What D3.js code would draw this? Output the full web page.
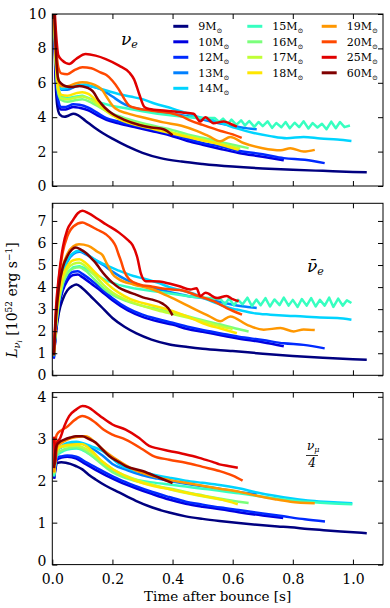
<!DOCTYPE html>
<html>
<head>
<meta charset="utf-8">
<script src="https://cdn.jsdelivr.net/npm/d3@7"></script>
<style>
  body { margin: 0; background: #fff; }
  svg text { font-family: "DejaVu Serif", serif; fill: #000; }
</style>
</head>
<body>
<div id="chart"></div>
<script>
////////////////////////////////////////////////////////////////////
////////////////////////////  Data  ////////////////////////////////
const masses = ["9", "10", "12", "13", "14", "15", "16", "17", "18", "19", "20", "25", "60"];
const colors = ["#000080", "#0000e0", "#002aff", "#0080ff", "#00d4ff", "#37ffc0", "#7bff7b",
  "#c0ff37", "#ffe600", "#ff9700", "#ff4800", "#e00000", "#800000"];
const xTicks = [0, 0.2, 0.4, 0.6, 0.8, 1.0];

// nu_e  [t (s), L (1e52 erg/s)]
const e9 = [[0.003,12],[0.01,6.6],[0.017,4.6],[0.025,4.15],[0.04,4.02],[0.055,4.1],[0.07,4.2],[0.085,4.12],[0.11,3.8],[0.14,3.4],[0.17,3.05],[0.2,2.75],[0.25,2.3],[0.3,1.93],[0.36,1.62],[0.43,1.42],[0.5,1.28],[0.6,1.13],[0.7,1.02],[0.8,0.94],[0.9,0.88],[1.0,0.82],[1.046,0.8]];
const e10 = [[0.003,12],[0.01,7.2],[0.018,5.0],[0.028,4.45],[0.045,4.45],[0.07,4.6],[0.09,4.55],[0.12,4.4],[0.15,4.1],[0.18,3.85],[0.22,3.65],[0.28,3.4],[0.33,3.2],[0.39,2.95],[0.45,2.62],[0.5,2.4],[0.56,2.15],[0.62,1.92],[0.7,1.7],[0.77,1.49]];
const e12 = [[0.003,12],[0.01,7.4],[0.018,5.2],[0.028,4.6],[0.045,4.6],[0.07,4.75],[0.09,4.72],[0.12,4.55],[0.15,4.25],[0.18,3.95],[0.22,3.75],[0.28,3.5],[0.33,3.3],[0.39,3.05],[0.45,2.75],[0.5,2.5],[0.56,2.3],[0.62,2.05],[0.7,1.85],[0.77,1.62],[0.84,1.52],[0.906,1.33]];
const e13 = [[0.003,12],[0.012,7.8],[0.02,6.0],[0.03,5.6],[0.05,5.6],[0.08,5.8],[0.11,5.85],[0.14,5.75],[0.17,5.55],[0.2,5.2],[0.23,4.85],[0.26,4.6],[0.3,4.45],[0.36,4.3],[0.42,4.15],[0.48,3.95],[0.54,3.7],[0.6,3.5],[0.65,3.35],[0.68,3.3]];
const e14 = [[0.003,12],[0.012,7.8],[0.02,6.1],[0.03,5.65],[0.05,5.7],[0.08,5.85],[0.11,5.9],[0.14,5.75],[0.18,5.55],[0.22,5.35],[0.26,5.2],[0.3,5.05],[0.34,4.8],[0.4,4.5],[0.46,4.15],[0.5,3.95],[0.54,3.8],[0.58,3.55],[0.614,3.35],[0.67,3.08],[0.725,2.9],[0.78,2.78],[0.836,2.85],[0.892,2.76],[0.948,2.7],[0.995,2.62]];
const e15 = [[0.003,12],[0.012,7.2],[0.02,5.6],[0.03,5.2],[0.05,5.1],[0.08,5.2],[0.1,5.25],[0.13,5.05],[0.16,4.85],[0.2,4.65],[0.25,4.5],[0.3,4.35],[0.35,4.2],[0.4,4.1],[0.45,4.0],[0.5,3.95],[0.54,3.95],
  [0.555,3.72],[0.568,3.92],[0.584,3.62],[0.596,3.86],[0.612,3.55],[0.628,3.82],[0.641,3.52],[0.655,3.78],[0.672,3.44],[0.686,3.72],[0.7,3.48],[0.716,3.76],[0.731,3.38],[0.745,3.66],[0.762,3.42],[0.776,3.72],[0.79,3.36],[0.806,3.68],[0.821,3.42],[0.836,3.76],[0.852,3.34],[0.866,3.66],[0.882,3.4],[0.897,3.62],[0.912,3.3],[0.928,3.74],[0.943,3.36],[0.957,3.72],[0.972,3.42],[0.99,3.52]];
const e16 = [[0.003,12],[0.012,7.0],[0.02,5.4],[0.03,5.0],[0.05,4.9],[0.08,5.0],[0.1,5.05],[0.13,4.85],[0.16,4.55],[0.2,4.2],[0.25,3.9],[0.3,3.65],[0.35,3.45],[0.4,3.25],[0.45,3.0],[0.5,2.8],[0.55,2.6],[0.6,2.4],[0.653,2.2]];
const e17 = [[0.003,12],[0.012,7.1],[0.02,5.5],[0.03,5.1],[0.05,5.05],[0.08,5.15],[0.1,5.2],[0.13,5.0],[0.16,4.6],[0.2,4.1],[0.25,3.8],[0.3,3.55],[0.35,3.35],[0.4,3.12],[0.45,2.9],[0.5,2.7],[0.55,2.5],[0.6,2.28],[0.625,2.18]];
const e18 = [[0.003,12],[0.012,7.3],[0.02,5.7],[0.03,5.3],[0.05,5.25],[0.08,5.4],[0.1,5.45],[0.12,5.35],[0.15,4.9],[0.18,4.4],[0.22,3.9],[0.28,3.55],[0.34,3.3],[0.4,3.05],[0.45,2.85],[0.5,2.65],[0.55,2.45],[0.59,2.25],[0.62,2.1]];
const e19 = [[0.003,12],[0.012,7.8],[0.02,6.2],[0.03,5.8],[0.05,5.8],[0.075,5.95],[0.1,6.03],[0.13,5.95],[0.15,5.8],[0.165,5.6],[0.18,5.2],[0.195,4.8],[0.21,4.5],[0.25,4.22],[0.31,3.95],[0.37,3.7],[0.43,3.5],[0.48,3.2],[0.52,2.9],[0.559,2.6],[0.592,2.85],[0.636,2.5],[0.7,2.2],[0.76,2.08],[0.792,2.2],[0.836,2.0],[0.873,2.1]];
const e20 = [[0.003,12],[0.012,8.3],[0.02,6.9],[0.03,6.55],[0.05,6.5],[0.075,6.75],[0.1,6.9],[0.13,6.85],[0.16,6.6],[0.18,6.45],[0.2,6.12],[0.22,5.65],[0.24,5.05],[0.256,4.67],[0.28,4.52],[0.33,4.38],[0.39,4.25],[0.43,4.05],[0.46,3.8],[0.5,3.55],[0.56,3.2],[0.6,3.0],[0.63,2.8]];
const e25 = [[0.003,12],[0.012,9.0],[0.02,7.6],[0.033,7.3],[0.056,7.1],[0.08,7.4],[0.111,7.67],[0.144,7.58],[0.178,7.38],[0.222,7.0],[0.256,6.6],[0.272,6.2],[0.289,5.35],[0.306,4.6],[0.322,4.48],[0.378,4.38],[0.433,4.28],[0.47,4.2],[0.492,3.75],[0.509,4.0],[0.536,3.65],[0.57,3.75],[0.592,3.62],[0.614,3.45]];
const e60 = [[0.003,12],[0.012,7.8],[0.02,6.2],[0.03,5.95],[0.045,5.8],[0.065,5.75],[0.09,5.82],[0.115,5.72],[0.135,5.5],[0.155,4.95],[0.175,4.55],[0.2,4.2],[0.24,3.85],[0.29,3.55],[0.33,3.4],[0.37,3.3],[0.4,2.95]];

// anti nu_e
const a9 = [[0.005,0.8],[0.012,1.9],[0.022,2.85],[0.035,3.45],[0.05,3.85],[0.067,4.05],[0.08,4.12],[0.1,3.95],[0.13,3.55],[0.16,3.15],[0.2,2.6],[0.24,2.2],[0.28,1.9],[0.33,1.62],[0.39,1.4],[0.45,1.28],[0.5,1.2],[0.6,1.1],[0.7,0.98],[0.8,0.88],[0.9,0.8],[1.0,0.73],[1.046,0.7]];
const a10 = [[0.005,0.75],[0.012,2.0],[0.022,3.1],[0.035,3.85],[0.05,4.3],[0.07,4.55],[0.085,4.57],[0.1,4.45],[0.13,4.15],[0.16,3.85],[0.2,3.4],[0.25,2.95],[0.3,2.65],[0.35,2.45],[0.4,2.3],[0.45,2.1],[0.5,1.97],[0.56,1.82],[0.614,1.68],[0.7,1.5],[0.77,1.32]];
const a12 = [[0.005,0.8],[0.012,2.1],[0.022,3.25],[0.035,4.0],[0.05,4.45],[0.07,4.7],[0.085,4.72],[0.1,4.6],[0.13,4.3],[0.16,3.97],[0.2,3.5],[0.25,3.05],[0.3,2.75],[0.35,2.55],[0.4,2.38],[0.45,2.2],[0.5,2.05],[0.56,1.9],[0.62,1.75],[0.7,1.6],[0.77,1.45],[0.836,1.38],[0.906,1.22]];
const a13 = [[0.005,0.85],[0.012,2.4],[0.022,3.7],[0.035,4.6],[0.05,5.15],[0.07,5.5],[0.09,5.6],[0.11,5.5],[0.14,5.25],[0.17,5.0],[0.2,4.7],[0.25,4.3],[0.3,4.05],[0.35,3.9],[0.4,3.75],[0.45,3.6],[0.5,3.5],[0.55,3.35],[0.6,3.2],[0.65,3.1],[0.68,3.05]];
const a14 = [[0.005,0.9],[0.012,2.4],[0.022,3.75],[0.035,4.65],[0.05,5.2],[0.07,5.55],[0.09,5.65],[0.11,5.55],[0.13,5.35],[0.17,5.05],[0.22,4.75],[0.27,4.5],[0.3,4.4],[0.35,4.2],[0.39,4.0],[0.43,3.85],[0.47,3.7],[0.503,3.5],[0.55,3.25],[0.59,3.05],[0.614,2.98],[0.67,2.82],[0.725,2.75],[0.78,2.7],[0.836,2.67],[0.89,2.62],[0.948,2.6],[0.995,2.52]];
const a15 = [[0.005,0.9],[0.012,2.2],[0.022,3.4],[0.035,4.2],[0.05,4.65],[0.07,4.9],[0.09,4.95],[0.11,4.85],[0.14,4.6],[0.18,4.3],[0.22,4.1],[0.27,3.95],[0.32,3.85],[0.37,3.75],[0.42,3.65],[0.47,3.55],[0.52,3.5],[0.56,3.45],
  [0.574,3.22],[0.588,3.48],[0.604,3.18],[0.618,3.42],[0.633,3.22],[0.649,3.52],[0.664,3.14],[0.679,3.44],[0.693,3.18],[0.709,3.5],[0.724,3.12],[0.739,3.44],[0.756,3.18],[0.77,3.52],[0.786,3.16],[0.8,3.42],[0.816,3.1],[0.83,3.46],[0.846,3.16],[0.861,3.5],[0.876,3.12],[0.89,3.42],[0.906,3.16],[0.921,3.52],[0.935,3.1],[0.951,3.48],[0.966,3.16],[0.98,3.4],[0.995,3.28]];
const a16 = [[0.005,0.9],[0.012,2.2],[0.022,3.35],[0.035,4.15],[0.05,4.6],[0.07,4.85],[0.09,4.9],[0.11,4.75],[0.14,4.35],[0.17,3.95],[0.2,3.65],[0.25,3.35],[0.3,3.15],[0.35,3.0],[0.4,2.85],[0.45,2.68],[0.5,2.5],[0.56,2.3],[0.61,2.12],[0.653,1.99]];
const a17 = [[0.005,0.9],[0.012,2.3],[0.022,3.5],[0.035,4.35],[0.05,4.8],[0.07,5.05],[0.09,5.1],[0.11,4.95],[0.14,4.55],[0.17,4.1],[0.2,3.75],[0.25,3.4],[0.3,3.15],[0.35,2.95],[0.4,2.78],[0.45,2.62],[0.5,2.45],[0.56,2.22],[0.6,2.1]];
const a18 = [[0.005,0.95],[0.012,2.35],[0.022,3.6],[0.035,4.5],[0.05,4.95],[0.07,5.22],[0.09,5.26],[0.11,5.1],[0.14,4.7],[0.167,4.35],[0.2,3.95],[0.222,3.74],[0.26,3.45],[0.3,3.28],[0.367,3.05],[0.433,2.75],[0.47,2.55],[0.503,2.35],[0.56,2.12],[0.614,1.91]];
const a19 = [[0.005,0.95],[0.012,2.5],[0.022,3.95],[0.035,4.95],[0.05,5.5],[0.07,5.85],[0.089,5.94],[0.12,5.87],[0.15,5.6],[0.167,5.45],[0.18,5.1],[0.19,4.85],[0.2,4.6],[0.222,4.35],[0.27,4.12],[0.333,3.9],[0.38,3.62],[0.43,3.3],[0.48,2.95],[0.52,2.7],[0.559,2.45],[0.592,2.67],[0.648,2.29],[0.703,2.07],[0.759,2.14],[0.803,1.99],[0.836,2.08],[0.873,2.05]];
const a20 = [[0.005,1.0],[0.012,2.8],[0.022,4.4],[0.035,5.6],[0.05,6.3],[0.07,6.75],[0.1,6.93],[0.12,6.82],[0.15,6.6],[0.178,6.4],[0.2,6.1],[0.211,5.85],[0.22,5.5],[0.228,5.2],[0.239,4.73],[0.256,4.35],[0.289,4.12],[0.333,4.02],[0.39,3.9],[0.433,3.85],[0.48,3.62],[0.536,3.36],[0.58,3.05],[0.631,2.75]];
const a25 = [[0.005,1.0],[0.012,3.0],[0.022,4.5],[0.035,5.8],[0.05,6.6],[0.067,7.0],[0.085,7.35],[0.1,7.46],[0.12,7.35],[0.15,7.1],[0.178,6.85],[0.222,6.47],[0.25,6.15],[0.267,5.9],[0.283,5.33],[0.294,4.65],[0.311,4.27],[0.356,4.25],[0.392,4.15],[0.42,4.05],[0.459,3.89],[0.48,3.95],[0.492,3.6],[0.51,3.74],[0.548,3.5],[0.58,3.6],[0.6,3.45],[0.62,3.36]];
const a60 = [[0.005,0.9],[0.012,2.6],[0.022,4.0],[0.035,4.9],[0.05,5.4],[0.065,5.7],[0.078,5.79],[0.095,5.7],[0.111,5.56],[0.13,5.3],[0.144,5.1],[0.16,4.8],[0.178,4.5],[0.2,4.2],[0.222,3.97],[0.25,3.8],[0.278,3.66],[0.31,3.5],[0.333,3.43],[0.367,3.25],[0.385,3.05],[0.4,2.72]];

// nu_mu / 4
const x9 = [[0.006,2.05],[0.01,2.25],[0.015,2.42],[0.03,2.44],[0.045,2.43],[0.06,2.4],[0.078,2.35],[0.1,2.27],[0.12,2.15],[0.144,2.03],[0.178,1.88],[0.222,1.72],[0.278,1.52],[0.333,1.36],[0.389,1.24],[0.444,1.15],[0.5,1.09],[0.556,1.04],[0.62,0.99],[0.681,0.95],[0.75,0.91],[0.792,0.89],[0.85,0.85],[0.903,0.82],[0.96,0.79],[1.046,0.75]];
const x10 = [[0.006,2.05],[0.01,2.3],[0.015,2.5],[0.03,2.55],[0.05,2.57],[0.08,2.53],[0.11,2.4],[0.144,2.26],[0.18,2.12],[0.222,1.98],[0.278,1.82],[0.333,1.68],[0.389,1.55],[0.444,1.45],[0.5,1.38],[0.56,1.32],[0.62,1.25],[0.7,1.17],[0.768,1.11]];
const x12 = [[0.006,2.1],[0.01,2.35],[0.015,2.55],[0.03,2.58],[0.05,2.6],[0.08,2.57],[0.11,2.45],[0.144,2.32],[0.18,2.18],[0.222,2.03],[0.278,1.87],[0.333,1.73],[0.389,1.61],[0.444,1.5],[0.5,1.43],[0.56,1.36],[0.62,1.3],[0.7,1.22],[0.77,1.15],[0.84,1.08],[0.907,1.03]];
const x13 = [[0.006,2.15],[0.01,2.45],[0.015,2.7],[0.03,2.8],[0.05,2.88],[0.08,2.9],[0.1,2.88],[0.13,2.78],[0.167,2.6],[0.2,2.4],[0.25,2.25],[0.3,2.13],[0.35,2.05],[0.4,1.98],[0.45,1.92],[0.5,1.87],[0.56,1.8],[0.62,1.73],[0.68,1.68]];
const x14 = [[0.006,2.15],[0.01,2.5],[0.015,2.72],[0.03,2.82],[0.05,2.9],[0.08,2.93],[0.1,2.9],[0.13,2.82],[0.167,2.71],[0.2,2.52],[0.222,2.39],[0.27,2.25],[0.333,2.15],[0.389,2.07],[0.444,2.0],[0.5,1.95],[0.556,1.9],[0.62,1.82],[0.681,1.72],[0.74,1.64],[0.792,1.58],[0.85,1.53],[0.903,1.5],[0.95,1.48],[0.998,1.46]];
const x15 = [[0.006,2.1],[0.01,2.4],[0.015,2.6],[0.03,2.68],[0.05,2.74],[0.08,2.77],[0.1,2.73],[0.13,2.6],[0.167,2.4],[0.2,2.25],[0.25,2.08],[0.333,1.96],[0.389,1.91],[0.444,1.86],[0.5,1.81],[0.556,1.76],[0.62,1.7],[0.667,1.65],[0.74,1.58],[0.8,1.53],[0.86,1.49],[0.92,1.46],[0.998,1.44]];
const x16 = [[0.006,2.15],[0.01,2.45],[0.015,2.65],[0.03,2.72],[0.05,2.77],[0.08,2.8],[0.1,2.75],[0.13,2.6],[0.167,2.38],[0.2,2.2],[0.25,2.05],[0.3,1.95],[0.35,1.87],[0.4,1.8],[0.45,1.72],[0.5,1.65],[0.56,1.57],[0.62,1.5],[0.653,1.47]];
const x17 = [[0.006,2.2],[0.01,2.5],[0.015,2.7],[0.03,2.8],[0.05,2.82],[0.08,2.84],[0.1,2.8],[0.13,2.67],[0.167,2.45],[0.2,2.28],[0.25,2.1],[0.3,1.97],[0.35,1.87],[0.4,1.78],[0.45,1.7],[0.5,1.63],[0.56,1.55],[0.6,1.5]];
const x18 = [[0.006,2.2],[0.01,2.55],[0.015,2.75],[0.03,2.82],[0.05,2.85],[0.08,2.87],[0.1,2.87],[0.13,2.72],[0.167,2.45],[0.2,2.28],[0.222,2.19],[0.27,2.02],[0.333,1.88],[0.389,1.8],[0.444,1.72],[0.5,1.64],[0.556,1.56],[0.617,1.44]];
const x19 = [[0.006,2.2],[0.01,2.6],[0.015,2.8],[0.03,2.9],[0.05,2.98],[0.08,3.04],[0.111,3.06],[0.14,2.93],[0.167,2.75],[0.2,2.57],[0.222,2.47],[0.27,2.27],[0.333,2.11],[0.389,2.02],[0.444,1.95],[0.5,1.88],[0.556,1.81],[0.62,1.74],[0.681,1.64],[0.74,1.56],[0.792,1.5],[0.873,1.46]];
const x20 = [[0.006,2.4],[0.01,2.9],[0.015,3.1],[0.03,3.2],[0.048,3.28],[0.075,3.45],[0.1,3.54],[0.12,3.5],[0.144,3.38],[0.17,3.22],[0.2,3.1],[0.244,2.98],[0.3,2.75],[0.333,2.6],[0.389,2.5],[0.444,2.43],[0.5,2.33],[0.556,2.23],[0.6,2.12],[0.633,2.0]];
const x25 = [[0.006,3.05],[0.01,2.4],[0.015,2.9],[0.026,3.01],[0.04,3.3],[0.056,3.54],[0.08,3.7],[0.1,3.78],[0.12,3.75],[0.145,3.62],[0.167,3.5],[0.2,3.34],[0.244,3.22],[0.289,3.02],[0.322,2.83],[0.35,2.77],[0.389,2.71],[0.43,2.65],[0.467,2.59],[0.5,2.52],[0.533,2.45],[0.556,2.39],[0.585,2.35],[0.617,2.31]];
const x60 = [[0.006,2.3],[0.01,2.7],[0.015,2.85],[0.022,2.91],[0.04,2.98],[0.06,3.03],[0.078,3.06],[0.1,3.06],[0.12,3.0],[0.144,2.91],[0.17,2.72],[0.189,2.59],[0.22,2.45],[0.244,2.35],[0.3,2.23],[0.356,2.07],[0.4,1.94]];

const panels = [
  { series: [e9, e10, e12, e13, e14, e15, e16, e17, e18, e19, e20, e25, e60], ymax: 10, yTicks: [0, 2, 4, 6, 8, 10] },
  { series: [a9, a10, a12, a13, a14, a15, a16, a17, a18, a19, a20, a25, a60], ymax: 7.8, yTicks: [0, 1, 2, 3, 4, 5, 6, 7] },
  { series: [x9, x10, x12, x13, x14, x15, x16, x17, x18, x19, x20, x25, x60], ymax: 4.1, yTicks: [0, 1, 2, 3, 4] },
];
// the 15 Msun runs oscillate: draw them with straight segments
const jagged = [e15, a15];

////////////////////////////////////////////////////////////////////
////////////////////////////  Init  ////////////////////////////////
const width = 390, height = 608;
const left = 52.3, right = 383;
const panelTop = [14, 203.3, 392.6];
const panelH = 172;

const svg = d3.select("#chart").append("svg")
  .attr("width", width).attr("height", height);

const x = d3.scaleLinear().domain([0, 1.1]).range([left, right]);

panels.forEach((p, pi) => {
  const top = panelTop[pi];
  const y = d3.scaleLinear().domain([0, p.ymax]).range([top + panelH, top]);

  svg.append("clipPath").attr("id", "clip" + pi)
    .append("rect").attr("x", left).attr("y", top)
    .attr("width", right - left).attr("height", panelH);

  const smooth = d3.line().x((d) => x(d[0])).y((d) => y(d[1])).curve(d3.curveMonotoneX);
  const straight = d3.line().x((d) => x(d[0])).y((d) => y(d[1]));

  svg.append("g").attr("clip-path", `url(#clip${pi})`)
    .selectAll("path")
    .data(p.series)
    .join("path")
    .attr("d", (d) => (jagged.includes(d) ? straight(d) : smooth(d)))
    .attr("fill", "none")
    .attr("stroke", (d, i) => colors[i])
    .attr("stroke-width", 2.5)
    .attr("stroke-linejoin", "round");

  // axes, ticks pointing inward on all four sides
  svg.append("g").attr("transform", `translate(0,${top + panelH})`)
    .call(d3.axisBottom(x).tickValues(xTicks).tickSize(-5).tickPadding(9)
      .tickFormat(pi === 2 ? d3.format(".1f") : ""));
  svg.append("g").attr("transform", `translate(0,${top})`)
    .call(d3.axisTop(x).tickValues(xTicks).tickSize(-5).tickFormat(""));
  const yAxis = svg.append("g").attr("transform", `translate(${left},0)`)
    .call(d3.axisLeft(y).tickValues(p.yTicks).tickSize(-5).tickPadding(6).tickFormat(d3.format("d")));
  // lift the bottom panel's "0" a little so it clears "0.0"
  if (pi === 2) yAxis.selectAll(".tick text").filter((d) => d === 0).attr("dy", "0.05em");
  svg.append("g").attr("transform", `translate(${right},0)`)
    .call(d3.axisRight(y).tickValues(p.yTicks).tickSize(-5).tickFormat(""));

  svg.append("rect")
    .attr("x", left).attr("y", top)
    .attr("width", right - left).attr("height", panelH)
    .attr("fill", "none").attr("stroke", "#000").attr("stroke-width", 1);
});

svg.selectAll(".domain").remove();
svg.selectAll(".tick line").attr("stroke", "#000");
svg.selectAll(".tick text").style("font-size", "14px").style("font-family", '"DejaVu Serif", serif');

////////////////////////////////////////////////////////////////////
////////////////////////////  Legend  //////////////////////////////
const legCols = [173.3, 247.3, 321.7];
const legRowY = 26.3, legRowStep = 15.5;
const legPos = masses.map((m, i) => {
  const col = i < 5 ? 0 : i < 9 ? 1 : 2;
  const row = i < 5 ? i : i < 9 ? i - 5 : i - 9;
  return { x: legCols[col], y: legRowY + row * legRowStep };
});

const leg = svg.append("g").selectAll("g").data(masses).join("g")
  .attr("transform", (d, i) => `translate(${legPos[i].x},${legPos[i].y})`);
leg.append("line").attr("x1", 0).attr("x2", 15).attr("y1", 0).attr("y2", 0)
  .attr("stroke", (d, i) => colors[i]).attr("stroke-width", 3);
const legText = leg.append("text").attr("x", 25).attr("y", 4).style("font-size", "11px");
legText.append("tspan").text((d) => d + "M");
legText.append("tspan").attr("dy", 3).style("font-size", "7px").text("\u2299");

////////////////////////////////////////////////////////////////////
////////////////////////////  Labels  //////////////////////////////
// nu_e
const t1 = svg.append("text").attr("x", 121).attr("y", 45).style("font-style", "italic").style("font-size", "17px");
t1.append("tspan").text("\u03bd");
t1.append("tspan").attr("dy", 3).style("font-size", "11px").text("e");

// anti nu_e
const t2 = svg.append("text").attr("x", 307).attr("y", 272).style("font-style", "italic").style("font-size", "17px");
t2.append("tspan").text("\u03bd\u0304");
t2.append("tspan").attr("dy", 3).style("font-size", "11px").text("e");

// nu_mu / 4
const t3 = svg.append("text").attr("x", 307).attr("y", 450).style("font-style", "italic").style("font-size", "12px");
t3.append("tspan").text("\u03bd");
t3.append("tspan").attr("dy", 2).style("font-size", "8px").text("\u03bc");
svg.append("line").attr("x1", 306).attr("x2", 318).attr("y1", 455.5).attr("y2", 455.5)
  .attr("stroke", "#000").attr("stroke-width", 0.8);
svg.append("text").attr("x", 312).attr("y", 467).attr("text-anchor", "middle")
  .style("font-style", "italic").style("font-size", "12px").text("4");

// x label
svg.append("text").attr("x", (left + right) / 2).attr("y", 601)
  .attr("text-anchor", "middle").style("font-size", "13.5px").text("Time after bounce [s]");

// y label
const yl = svg.append("text").attr("transform", "translate(17,300) rotate(-90)")
  .attr("text-anchor", "middle").style("font-size", "14px");
yl.append("tspan").style("font-style", "italic").text("L");
yl.append("tspan").attr("dy", 3).style("font-size", "10px").style("font-style", "italic").text("\u03bd");
yl.append("tspan").attr("dy", 2).style("font-size", "7px").style("font-style", "italic").text("i");
yl.append("tspan").attr("dy", -5).text(" [10");
yl.append("tspan").attr("dy", -5).style("font-size", "9px").text("52");
yl.append("tspan").attr("dy", 5).text(" erg s");
yl.append("tspan").attr("dy", -5).style("font-size", "9px").text("\u22121");
yl.append("tspan").attr("dy", 5).text("]");
</script>
</body>
</html>
